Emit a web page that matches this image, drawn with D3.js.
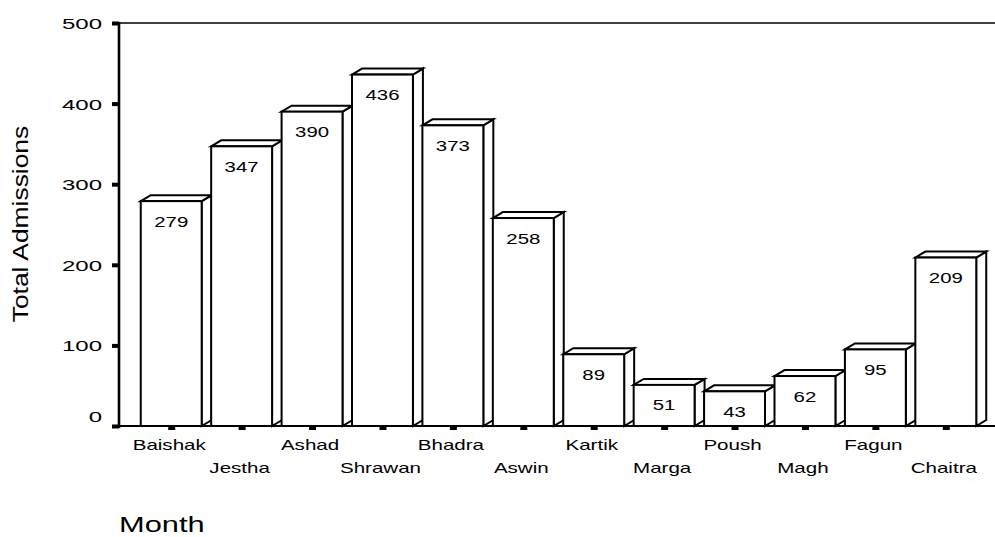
<!DOCTYPE html>
<html>
<head>
<meta charset="utf-8">
<script src="https://cdn.jsdelivr.net/npm/d3@7"></script>
<style>
  body { margin: 0; background: #fff; }
  svg { display: block; font-family: "Liberation Sans", Arial, sans-serif; }
</style>
</head>
<body>
<svg class="main" width="995" height="537"></svg>
<script>
const months = ["Baishak", "Jestha", "Ashad", "Shrawan", "Bhadra", "Aswin",
  "Kartik", "Marga", "Poush", "Magh", "Fagun", "Chaitra"];
const admissions = [279, 347, 390, 436, 373, 258, 89, 51, 43, 62, 95, 209];
const yTicks = [0, 100, 200, 300, 400, 500];

const svg = d3.select(".main");

const axisX = 119;
const x = d3.scaleBand().domain(months).range([136, 981]);
const y = d3.scaleLinear().domain([0, 500]).range([426, 23]);

const barW = x.bandwidth() * 0.865;
const dx = 10, dy = 6;

// the old chart's text is rendered wide, so stretch it sideways
function wideText(sel, tx, ty, sx, rot) {
  return sel.append("text")
    .attr("transform", `translate(${tx},${ty})` + (rot ? ` rotate(${rot})` : "") + ` scale(${sx},1)`);
}

// top frame line
svg.append("line")
  .attr("x1", axisX).attr("x2", 995)
  .attr("y1", y(500)).attr("y2", y(500))
  .attr("stroke", "#000").attr("stroke-width", 1.6);

// bars
const bars = svg.append("g");
months.forEach((m, i) => {
  const v = admissions[i];
  const cx = x(m) + x.bandwidth() / 2;
  const fl = cx - barW / 2, fr = cx + barW / 2;
  const top = y(v), base = y(0);
  const g = bars.append("g")
    .attr("fill", "#fff").attr("stroke", "#000")
    .attr("stroke-width", 2);

  // side face
  g.append("path").attr("d",
    `M${fr},${top}L${fr + dx},${top - dy}L${fr + dx},${base - dy}L${fr},${base}Z`);
  // top face
  g.append("path").attr("d",
    `M${fl},${top}L${fl + dx},${top - dy}L${fr + dx},${top - dy}L${fr},${top}Z`);
  // front face
  g.append("rect")
    .attr("x", fl).attr("y", top)
    .attr("width", barW).attr("height", base - top);

  wideText(bars, cx, top + 25.5, 1.36)
    .attr("text-anchor", "middle")
    .attr("font-size", 15)
    .text(v);
});

// baseline
svg.append("line")
  .attr("x1", axisX).attr("x2", 995)
  .attr("y1", y(0)).attr("y2", y(0))
  .attr("stroke", "#000").attr("stroke-width", 2);

// y axis
svg.append("line")
  .attr("x1", axisX).attr("x2", axisX)
  .attr("y1", y(500) - 1).attr("y2", y(0) + 2)
  .attr("stroke", "#000").attr("stroke-width", 2.6);

const yg = svg.append("g");
yTicks.forEach(t => {
  yg.append("rect")
    .attr("x", axisX - 7).attr("y", y(t) - 1.5)
    .attr("width", 7).attr("height", 4)
    .attr("fill", "#000");
  wideText(yg, 102, t === 0 ? y(t) - 4.5 : y(t) + 6, 1.55)
    .attr("text-anchor", "end")
    .attr("font-size", 15.5)
    .text(t);
});

// x ticks and labels
const xg = svg.append("g");
months.forEach((m, i) => {
  const cx = x(m) + x.bandwidth() / 2;
  xg.append("rect")
    .attr("x", cx - 3).attr("y", y(0) + 1)
    .attr("width", 7).attr("height", 3)
    .attr("fill", "#000");
  wideText(xg, cx - 2, i % 2 === 0 ? 450 : 473, 1.37)
    .attr("text-anchor", "middle")
    .attr("font-size", 15)
    .text(m);
});

// axis titles
wideText(svg, 28, 224, 1.2, -90)
  .attr("text-anchor", "middle")
  .attr("font-size", 22)
  .text("Total Admissions");

wideText(svg, 119, 532, 1.4)
  .attr("font-size", 22)
  .text("Month");
</script>
</body>
</html>
